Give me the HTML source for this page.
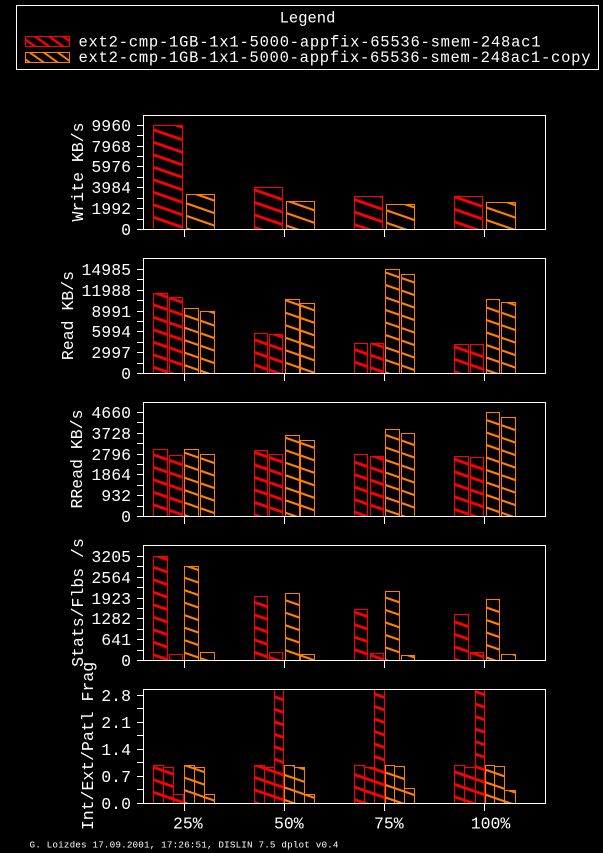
<!DOCTYPE html>
<html>
<head>
<meta charset="utf-8">
<style>
  html, body { margin: 0; padding: 0; background: #000; }
  svg { display: block; }
  text { font-family: "Liberation Mono", "DejaVu Sans Mono", monospace; fill: #fff; }
  .t { font-size: 16.5px; }
  .r { fill: url(#hr); stroke: #ff0000; stroke-width: 1; }
  .o { fill: url(#ho); stroke: #ff8000; stroke-width: 1; }
  .w { fill: none; stroke: #fff; stroke-width: 1; }
</style>
</head>
<body>
<svg width="603" height="853" viewBox="0 0 603 853" xmlns="http://www.w3.org/2000/svg">
  <defs>
    <pattern id="hr" patternUnits="userSpaceOnUse" x="0" y="0" width="36" height="12.5">
      <polygon points="0,0 36,12.5 36,15.5 0,3" fill="#ff0000"/>
      <polygon points="0,-12.5 36,0 36,3 0,-9.5" fill="#ff0000"/>
    </pattern>
    <pattern id="ho" patternUnits="userSpaceOnUse" x="0" y="0" width="36" height="12.5">
      <polygon points="0,0 36,12.5 36,14.8 0,2.3" fill="#ff8000"/>
      <polygon points="0,-12.5 36,0 36,2.3 0,-10.2" fill="#ff8000"/>
    </pattern>
    <pattern id="lr" patternUnits="userSpaceOnUse" x="0" y="0" width="14" height="10">
      <polygon points="0,0 14,10 14,12.8 0,2.8" fill="#ff0000"/>
      <polygon points="0,-10 14,0 14,2.8 0,-7.2" fill="#ff0000"/>
    </pattern>
    <pattern id="lo" patternUnits="userSpaceOnUse" x="0" y="0" width="14" height="10">
      <polygon points="0,0 14,10 14,12.4 0,2.4" fill="#ff8000"/>
      <polygon points="0,-10 14,0 14,2.4 0,-7.6" fill="#ff8000"/>
    </pattern>
  </defs>
  <rect x="0" y="0" width="603" height="853" fill="#000"/>

  <!-- Legend -->
  <rect class="w" x="16.5" y="5.5" width="582" height="64"/>
  <text x="307.5" y="22.5" text-anchor="middle" style="font-size:15.5px">Legend</text>
  <rect x="25.5" y="36.5" width="44" height="10" fill="url(#lr)" stroke="#ff0000"/>
  <rect x="25.5" y="52.5" width="44" height="10" fill="url(#lo)" stroke="#ff8000"/>
  <text x="78.5" y="46.5" style="font-size:15.5px" textLength="462" lengthAdjust="spacing">ext2-cmp-1GB-1x1-5000-appfix-65536-smem-248ac1</text>
  <text x="78.5" y="62" style="font-size:15.5px" textLength="512" lengthAdjust="spacing">ext2-cmp-1GB-1x1-5000-appfix-65536-smem-248ac1-copy</text>

  <!-- Panel 1: Write -->
  <rect class="r" x="153.5" y="125.5" width="29" height="104"/>
  <rect class="o" x="186.5" y="194.5" width="28" height="35"/>
  <rect class="r" x="254.5" y="187.5" width="28" height="42"/>
  <rect class="o" x="286.5" y="201.5" width="28" height="28"/>
  <rect class="r" x="354.5" y="196.5" width="28" height="33"/>
  <rect class="o" x="386.5" y="204.5" width="28" height="25"/>
  <rect class="r" x="454.5" y="196.5" width="28" height="33"/>
  <rect class="o" x="486.5" y="202.5" width="29" height="27"/>
  <rect class="w" x="143.5" y="115.5" width="402" height="114"/>
  <path class="w" d="M137 229.5H143M137 219.5H143M137 208.5H143M137 198.5H143M137 187.5H143M137 177.5H143M137 166.5H143M137 156.5H143M137 146.5H143M137 135.5H143M137 125.5H143M184.5 229.5V237M284.5 229.5V237M384.5 229.5V237M484.5 229.5V237"/>
  <g class="t" text-anchor="end">
    <text x="131" y="131">9960</text>
    <text x="131" y="152">7968</text>
    <text x="131" y="172">5976</text>
    <text x="131" y="193">3984</text>
    <text x="131" y="214">1992</text>
    <text x="131" y="235">0</text>
  </g>
  <text class="t" transform="translate(83,172) rotate(-90)" text-anchor="middle">Write KB/s</text>

  <!-- Panel 2: Read -->
  <rect class="r" x="153.5" y="293.5" width="14" height="80"/>
  <rect class="r" x="169.5" y="297.5" width="13" height="76"/>
  <rect class="o" x="184.5" y="308.5" width="14" height="65"/>
  <rect class="o" x="200.5" y="311.5" width="14" height="62"/>
  <rect class="r" x="254.5" y="333.5" width="13" height="40"/>
  <rect class="r" x="269.5" y="334.5" width="13" height="39"/>
  <rect class="o" x="285.5" y="299.5" width="14" height="74"/>
  <rect class="o" x="300.5" y="303.5" width="14" height="70"/>
  <rect class="r" x="354.5" y="343.5" width="13" height="30"/>
  <rect class="r" x="370.5" y="343.5" width="13" height="30"/>
  <rect class="o" x="385.5" y="269.5" width="14" height="104"/>
  <rect class="o" x="401.5" y="274.5" width="13" height="99"/>
  <rect class="r" x="454.5" y="344.5" width="14" height="29"/>
  <rect class="r" x="470.5" y="344.5" width="13" height="29"/>
  <rect class="o" x="486.5" y="299.5" width="13" height="74"/>
  <rect class="o" x="501.5" y="302.5" width="14" height="71"/>
  <rect class="w" x="143.5" y="258.5" width="402" height="115"/>
  <path class="w" d="M137 373.5H143M137 363.5H143M137 352.5H143M137 342.5H143M137 331.5H143M137 321.5H143M137 311.5H143M137 300.5H143M137 290.5H143M137 279.5H143M137 269.5H143M184.5 373.5V381M284.5 373.5V381M384.5 373.5V381M484.5 373.5V381"/>
  <g class="t" text-anchor="end">
    <text x="131" y="275">14985</text>
    <text x="131" y="296">11988</text>
    <text x="131" y="317">8991</text>
    <text x="131" y="337">5994</text>
    <text x="131" y="358">2997</text>
    <text x="131" y="379">0</text>
  </g>
  <text class="t" transform="translate(73,315.5) rotate(-90)" text-anchor="middle">Read KB/s</text>

  <!-- Panel 3: RRead -->
  <rect class="r" x="153.5" y="449.5" width="14" height="67"/>
  <rect class="r" x="169.5" y="455.5" width="13" height="61"/>
  <rect class="o" x="184.5" y="449.5" width="14" height="67"/>
  <rect class="o" x="200.5" y="454.5" width="14" height="62"/>
  <rect class="r" x="254.5" y="450.5" width="13" height="66"/>
  <rect class="r" x="269.5" y="454.5" width="13" height="62"/>
  <rect class="o" x="285.5" y="435.5" width="14" height="81"/>
  <rect class="o" x="300.5" y="440.5" width="14" height="76"/>
  <rect class="r" x="354.5" y="454.5" width="13" height="62"/>
  <rect class="r" x="370.5" y="456.5" width="13" height="60"/>
  <rect class="o" x="385.5" y="429.5" width="14" height="87"/>
  <rect class="o" x="401.5" y="433.5" width="13" height="83"/>
  <rect class="r" x="454.5" y="456.5" width="14" height="60"/>
  <rect class="r" x="470.5" y="457.5" width="13" height="59"/>
  <rect class="o" x="486.5" y="412.5" width="13" height="104"/>
  <rect class="o" x="501.5" y="417.5" width="14" height="99"/>
  <rect class="w" x="143.5" y="402.5" width="402" height="114"/>
  <path class="w" d="M137 516.5H143M137 506.5H143M137 495.5H143M137 485.5H143M137 474.5H143M137 464.5H143M137 454.5H143M137 443.5H143M137 433.5H143M137 422.5H143M137 412.5H143M184.5 516.5V524M284.5 516.5V524M384.5 516.5V524M484.5 516.5V524"/>
  <g class="t" text-anchor="end">
    <text x="131" y="418">4660</text>
    <text x="131" y="439">3728</text>
    <text x="131" y="460">2796</text>
    <text x="131" y="480">1864</text>
    <text x="131" y="501">932</text>
    <text x="131" y="522">0</text>
  </g>
  <text class="t" transform="translate(82,459) rotate(-90)" text-anchor="middle">RRead KB/s</text>

  <!-- Panel 4: Stats -->
  <rect class="r" x="153.5" y="556.5" width="14" height="104"/>
  <rect class="r" x="169.5" y="654.5" width="13" height="6"/>
  <rect class="o" x="184.5" y="566.5" width="14" height="94"/>
  <rect class="o" x="200.5" y="652.5" width="14" height="8"/>
  <rect class="r" x="254.5" y="596.5" width="13" height="64"/>
  <rect class="r" x="269.5" y="652.5" width="13" height="8"/>
  <rect class="o" x="285.5" y="593.5" width="14" height="67"/>
  <rect class="o" x="300.5" y="654.5" width="14" height="6"/>
  <rect class="r" x="354.5" y="609.5" width="13" height="51"/>
  <rect class="r" x="370.5" y="653.5" width="13" height="7"/>
  <rect class="o" x="385.5" y="591.5" width="14" height="69"/>
  <rect class="o" x="401.5" y="655.5" width="13" height="5"/>
  <rect class="r" x="454.5" y="614.5" width="14" height="46"/>
  <rect class="r" x="470.5" y="652.5" width="13" height="8"/>
  <rect class="o" x="486.5" y="599.5" width="13" height="61"/>
  <rect class="o" x="501.5" y="654.5" width="14" height="6"/>
  <rect class="w" x="143.5" y="545.5" width="402" height="115"/>
  <path class="w" d="M137 660.5H143M137 650.5H143M137 639.5H143M137 629.5H143M137 618.5H143M137 608.5H143M137 598.5H143M137 587.5H143M137 577.5H143M137 566.5H143M137 556.5H143M184.5 660.5V668M284.5 660.5V668M384.5 660.5V668M484.5 660.5V668"/>
  <g class="t" text-anchor="end">
    <text x="131" y="562">3205</text>
    <text x="131" y="583">2564</text>
    <text x="131" y="604">1923</text>
    <text x="131" y="624">1282</text>
    <text x="131" y="645">641</text>
    <text x="131" y="666">0</text>
  </g>
  <text class="t" transform="translate(83,602.5) rotate(-90)" text-anchor="middle">Stats/Flbs /s</text>

  <!-- Panel 5: Frag -->
  <rect class="r" x="153.5" y="765.5" width="10" height="38"/>
  <rect class="r" x="163.5" y="767.5" width="10" height="36"/>
  <rect class="r" x="173.5" y="794.5" width="10" height="9"/>
  <rect class="o" x="184.5" y="765.5" width="10" height="38"/>
  <rect class="o" x="194.5" y="767.5" width="10" height="36"/>
  <rect class="o" x="204.5" y="794.5" width="10" height="9"/>

  <rect class="r" x="254.5" y="765.5" width="10" height="38"/>
  <rect class="r" x="264.5" y="767.5" width="10" height="36"/>
  <rect class="r" x="274.5" y="689.5" width="9" height="114"/>
  <rect class="o" x="284.5" y="765.5" width="10" height="38"/>
  <rect class="o" x="294.5" y="767.5" width="10" height="36"/>
  <rect class="o" x="304.5" y="794.5" width="10" height="9"/>

  <rect class="r" x="354.5" y="765.5" width="10" height="38"/>
  <rect class="r" x="364.5" y="767.5" width="10" height="36"/>
  <rect class="r" x="374.5" y="689.5" width="10" height="114"/>
  <rect class="o" x="385.5" y="765.5" width="9" height="38"/>
  <rect class="o" x="394.5" y="766.5" width="10" height="37"/>
  <rect class="o" x="404.5" y="788.5" width="10" height="15"/>

  <rect class="r" x="454.5" y="765.5" width="10" height="38"/>
  <rect class="r" x="464.5" y="767.5" width="11" height="36"/>
  <rect class="r" x="475.5" y="689.5" width="9" height="114"/>
  <rect class="o" x="485.5" y="765.5" width="9" height="38"/>
  <rect class="o" x="494.5" y="766.5" width="10" height="37"/>
  <rect class="o" x="504.5" y="790.5" width="11" height="13"/>

  <rect class="w" x="143.5" y="689.5" width="402" height="114"/>
  <path class="w" d="M137 803.5H143M137 789.5H143M137 776.5H143M137 762.5H143M137 749.5H143M137 735.5H143M137 722.5H143M137 708.5H143M137 695.5H143M184.5 803.5V811M284.5 803.5V811M384.5 803.5V811M484.5 803.5V811"/>
  <g class="t" text-anchor="end">
    <text x="131" y="701">2.8</text>
    <text x="131" y="728">2.1</text>
    <text x="131" y="755">1.4</text>
    <text x="131" y="782">0.7</text>
    <text x="131" y="809">0.0</text>
  </g>
  <text class="t" transform="translate(93,746) rotate(-90)" text-anchor="middle">Int/Ext/Patl Frag</text>

  <!-- X labels -->
  <g class="t">
    <text x="173" y="828.5">25%</text>
    <text x="274" y="828.5">50%</text>
    <text x="374" y="828.5">75%</text>
    <text x="470.7" y="828.5">100%</text>
  </g>

  <!-- Footer -->
  <text x="29.5" y="847.5" style="font-size:9.3px" textLength="309" lengthAdjust="spacing">G. Loizdes 17.09.2001, 17:26:51, DISLIN 7.5 dplot v0.4</text>
</svg>
</body>
</html>
